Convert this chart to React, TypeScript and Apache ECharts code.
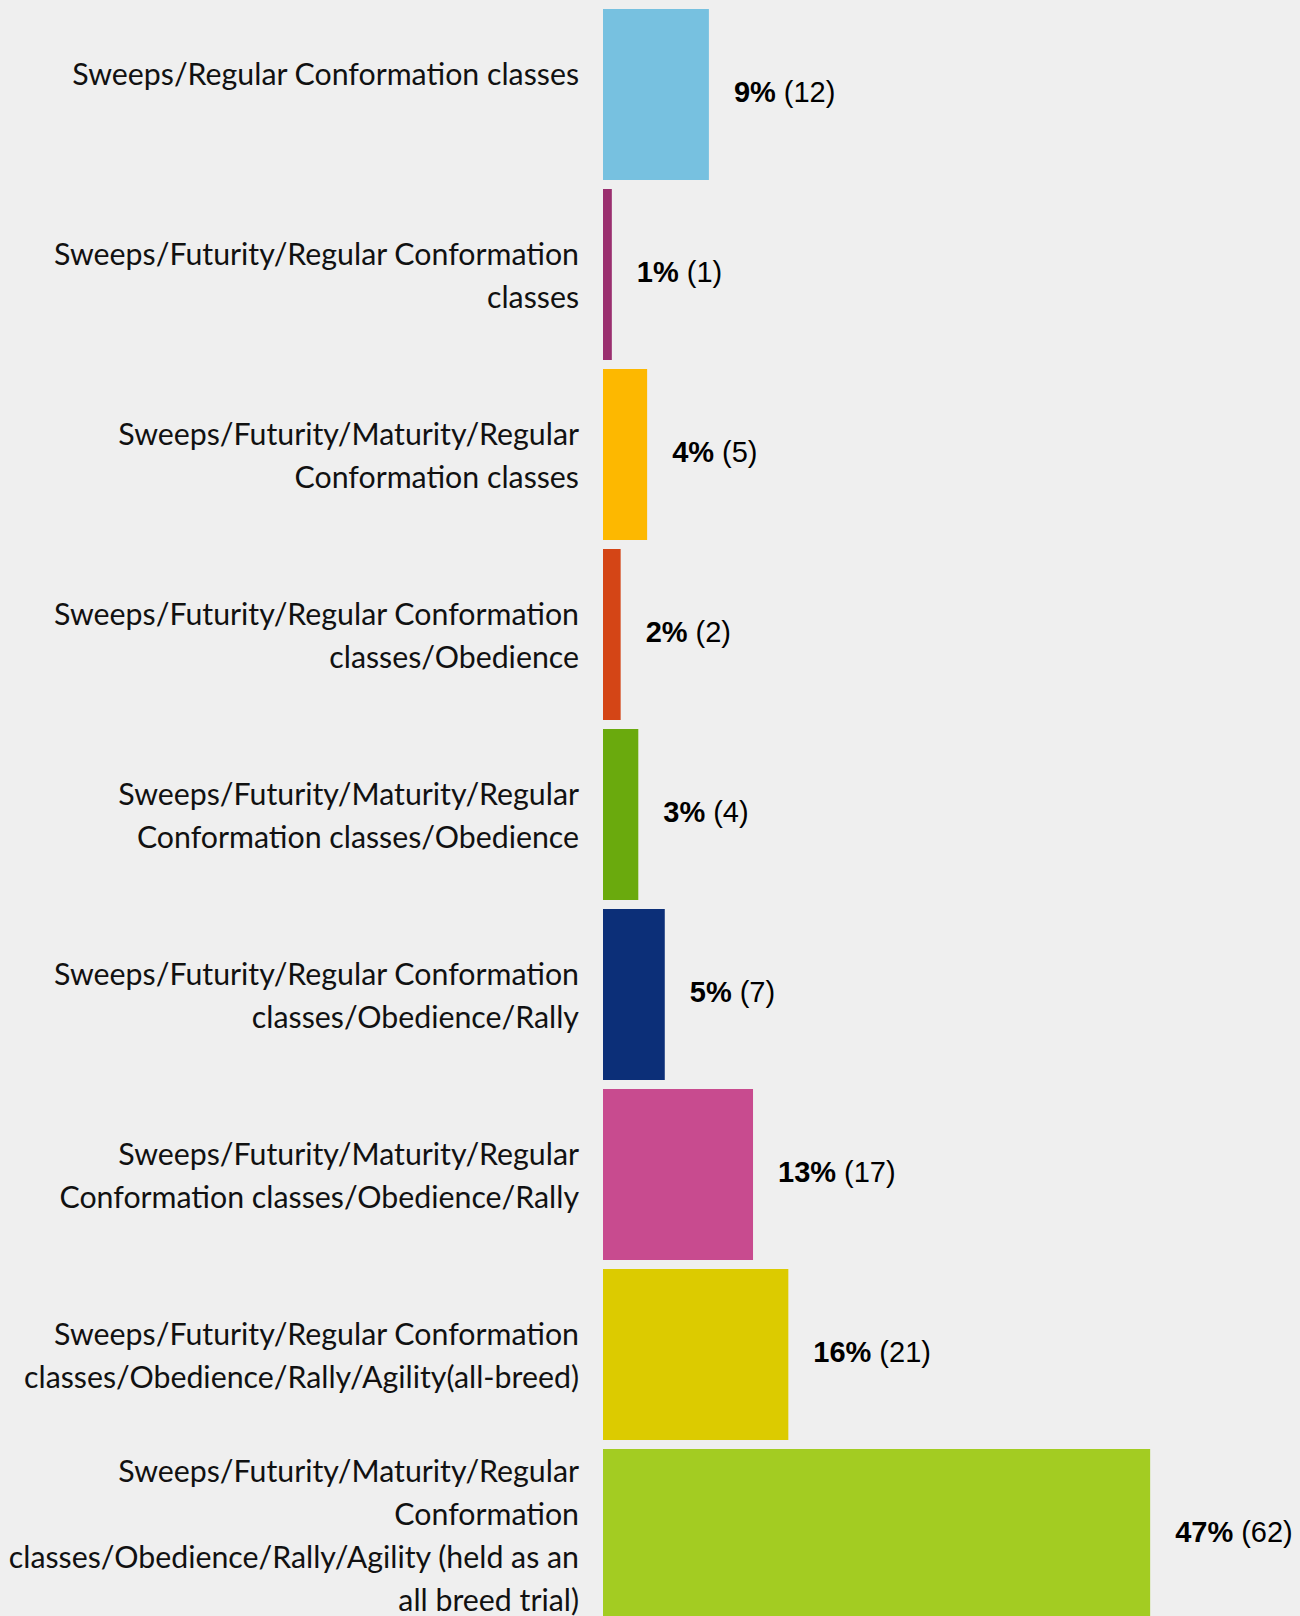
import React, { useEffect, useRef } from "react";
import * as echarts from "echarts";

const categories: string[] = [
  "Sweeps/Regular Conformation classes",
  "Sweeps/Futurity/Regular Conformation\nclasses",
  "Sweeps/Futurity/Maturity/Regular\nConformation classes",
  "Sweeps/Futurity/Regular Conformation\nclasses/Obedience",
  "Sweeps/Futurity/Maturity/Regular\nConformation classes/Obedience",
  "Sweeps/Futurity/Regular Conformation\nclasses/Obedience/Rally",
  "Sweeps/Futurity/Maturity/Regular\nConformation classes/Obedience/Rally",
  "Sweeps/Futurity/Regular Conformation\nclasses/Obedience/Rally/Agility(all-breed)",
  "Sweeps/Futurity/Maturity/Regular\nConformation\nclasses/Obedience/Rally/Agility (held as an\nall breed trial)",
];

const counts: number[] = [12, 1, 5, 2, 4, 7, 17, 21, 62];
const percents: string[] = ["9%", "1%", "4%", "2%", "3%", "5%", "13%", "16%", "47%"];
const colors: string[] = [
  "#77C1E0",
  "#9A2F6F",
  "#FDB800",
  "#D44516",
  "#6AAA0D",
  "#0C2F78",
  "#C84B8F",
  "#DCCB00",
  "#A3CC22",
];

const LABEL_FONT = "Lato";
const LABEL_SIZE = 30.3;

export default function App() {
  const ref = useRef<HTMLDivElement>(null);
  useEffect(() => {
    document.body.style.margin = "0";
    document.body.style.overflow = "hidden";
    const chart = echarts.init(ref.current!, null, { renderer: "svg" });
    chart.setOption({
      animation: false,
      backgroundColor: "#EFEFEF",
      grid: { left: 603, right: 79.25, top: 4.5, height: 1620, containLabel: false },
      xAxis: {
        type: "value",
        min: 0,
        max: 70,
        show: false,
        splitLine: { show: false },
      },
      yAxis: {
        type: "category",
        inverse: true,
        data: categories,
        axisLine: { show: false },
        axisTick: { show: false },
        axisLabel: {
          margin: 24,
          fontFamily: LABEL_FONT,
          fontSize: LABEL_SIZE,
          lineHeight: 43,
          color: "#111",
          align: "right",
          formatter: (v: string, i: number) => (i === 0 ? `{up|${v}}` : v),
          rich: {
            up: {
              fontFamily: LABEL_FONT,
              fontSize: LABEL_SIZE,
              lineHeight: 43,
              color: "#111",
              padding: [0, 0, 43, 0],
            },
          },
        },
      },
      series: [
        {
          type: "bar",
          barCategoryGap: "5%",
          data: counts.map((v, i) => ({
            value: v,
            itemStyle: { color: colors[i] },
            label: {
              formatter: `{b|${percents[i]}}{n|(${v})}`,
            },
          })),
          label: {
            show: true,
            position: "right",
            distance: 25,
            offset: [0, -3],
            rich: {
              b: {
                fontFamily: "Liberation Sans",
                fontWeight: "bold",
                fontSize: 29,
                color: "#000",
              },
              n: {
                fontFamily: "Liberation Sans",
                fontSize: 29,
                color: "#000",
                padding: [0, 0, 0, 8],
              },
            },
          },
        },
      ],
    });
    return () => chart.dispose();
  }, []);
  return <div ref={ref} style={{ width: 1300, height: 1625 }} />;
}
